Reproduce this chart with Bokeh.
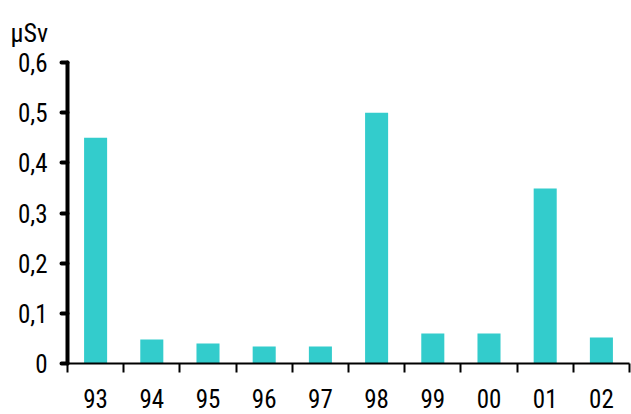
from bokeh.plotting import figure
from bokeh.models import Range1d, FixedTicker, Title
from bokeh.embed import file_html
from bokeh.resources import INLINE

categories = ["93", "94", "95", "96", "97", "98", "99", "00", "01", "02"]
values = [0.45, 0.048, 0.04, 0.034, 0.034, 0.5, 0.06, 0.06, 0.349, 0.052]
y_ticks = [0, 0.1, 0.2, 0.3, 0.4, 0.5, 0.6]
y_tick_labels = ["0", "0,1", "0,2", "0,3", "0,4", "0,5", "0,6"]
unit_label = "μSv"

FONT = "Roboto Condensed, Liberation Sans Narrow, Roboto, sans-serif"
BAR = "#33CCCC"

n = len(categories)
centers = [i + 0.5 for i in range(n)]

p = figure(width=631, height=414, output_backend="svg", toolbar_location=None,
           x_range=Range1d(0, n), y_range=Range1d(0, 0.6),
           min_border_left=67, min_border_right=2, min_border_top=20,
           min_border_bottom=51)
p.outline_line_color = None
p.xgrid.visible = False
p.ygrid.visible = False
p.background_fill_color = "white"
p.border_fill_color = "white"

p.vbar(x=centers, top=values, width=0.41, bottom=0, fill_color=BAR, line_color=None)

xa = p.xaxis[0]
xa.ticker = FixedTicker(ticks=centers, minor_ticks=list(range(n + 1)))
xa.major_label_overrides = {c: lab for c, lab in zip(centers, categories)}
xa.major_tick_out = 0
xa.major_tick_in = 0
xa.minor_tick_out = 9
xa.minor_tick_in = 0
xa.minor_tick_line_width = 2
xa.minor_tick_line_color = "black"
xa.axis_line_width = 2
xa.axis_line_color = "black"
xa.major_label_text_font = FONT
xa.major_label_text_font_size = "25px"
xa.major_label_text_color = "black"
xa.major_label_standoff = 16

ya = p.yaxis[0]
ya.ticker = FixedTicker(ticks=y_ticks, minor_ticks=[])
ya.major_label_overrides = {t: lab for t, lab in zip(y_ticks, y_tick_labels)}
ya.axis_line_width = 4
ya.axis_line_color = "black"
ya.axis_line_cap = "round"
ya.major_tick_out = 6
ya.major_tick_in = 0
ya.major_tick_line_width = 4
ya.major_tick_line_cap = "round"
ya.major_tick_line_color = "black"
ya.minor_tick_out = 0
ya.major_label_text_font = FONT
ya.major_label_text_font_size = "25px"
ya.major_label_text_color = "black"
ya.major_label_standoff = 14

# unit label above the y axis
p.add_layout(Title(text=unit_label, align="left", offset=-57, standoff=30,
                   text_font=FONT, text_font_size="26px", text_font_style="normal",
                   text_color="black"), "above")

open("out.html", "w").write(file_html(p, INLINE))
